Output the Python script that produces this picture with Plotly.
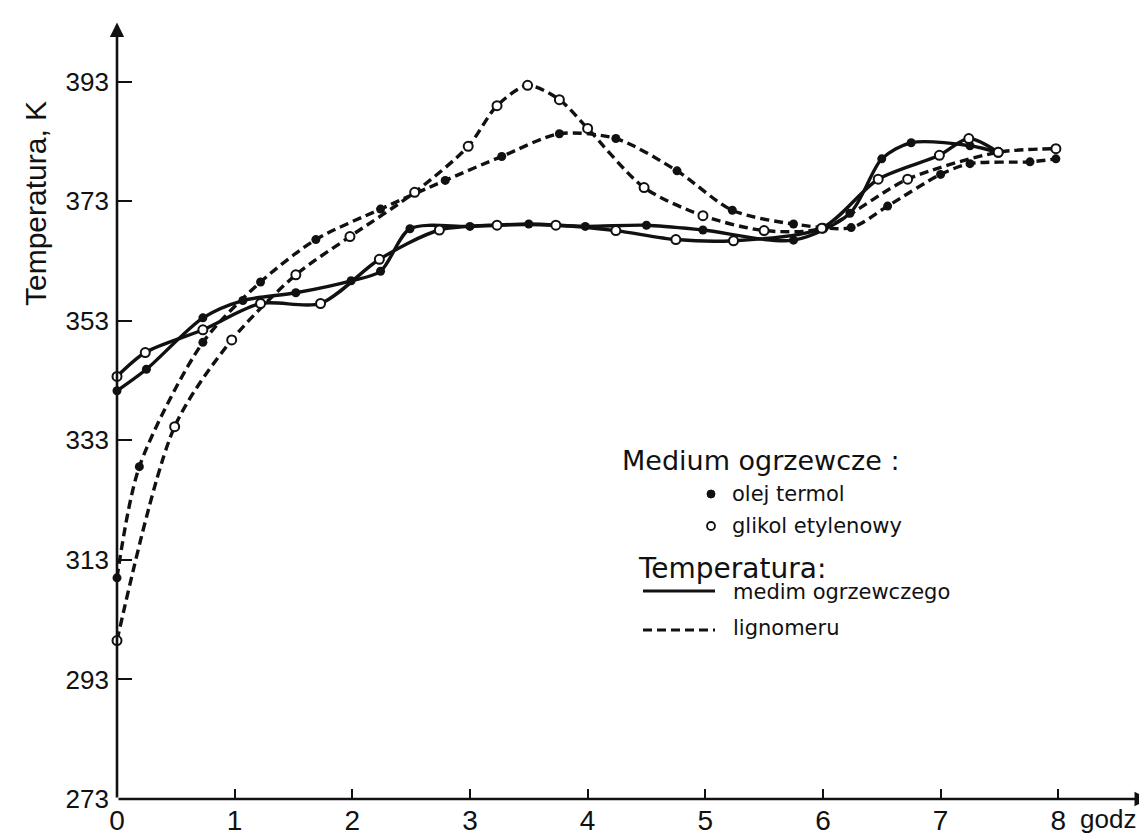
import plotly.graph_objects as go

# ---- data (hours, temperature K) ----
hours_oil_medium = [0, 0.25, 0.73, 1.07, 1.52, 1.99, 2.24, 2.49, 3.0, 3.5, 3.98, 4.5, 4.98, 5.75, 6.23, 6.5, 6.75, 7.25, 7.49]
temp_oil_medium = [341.3, 344.9, 353.5, 356.4, 357.7, 359.7, 361.3, 368.4, 368.8, 369.2, 368.8, 369.0, 368.2, 366.5, 371.0, 380.1, 382.8, 382.3, 381.2]

hours_glycol_medium = [0, 0.24, 0.73, 1.22, 1.73, 2.23, 2.74, 3.23, 3.73, 4.24, 4.75, 5.24, 5.99, 6.47, 6.99, 7.24, 7.49]
temp_glycol_medium = [343.7, 347.7, 351.5, 355.9, 355.9, 363.3, 368.2, 369.0, 369.0, 368.1, 366.6, 366.4, 368.5, 376.7, 380.7, 383.5, 381.2]

hours_oil_lignomer = [0, 0.19, 0.73, 1.22, 1.69, 2.24, 2.79, 3.27, 3.76, 4.24, 4.76, 5.23, 5.75, 6.24, 6.55, 7.0, 7.25, 7.76, 7.98]
temp_oil_lignomer = [310.0, 328.6, 349.4, 359.5, 366.6, 371.7, 376.5, 380.5, 384.3, 383.5, 378.1, 371.5, 369.2, 368.6, 372.2, 377.5, 379.3, 379.6, 380.1]

hours_glycol_lignomer = [0, 0.49, 0.975, 1.52, 1.98, 2.53, 2.985, 3.23, 3.49, 3.76, 4.0, 4.48, 4.98, 5.5, 6.0, 6.72, 7.49, 7.98]
temp_glycol_lignomer = [299.5, 335.3, 349.8, 360.7, 367.1, 374.5, 382.2, 389.0, 392.4, 390.0, 385.2, 375.3, 370.6, 368.1, 368.5, 376.7, 381.2, 381.8]

x_ticks = [0, 1, 2, 3, 4, 5, 6, 7, 8]
y_ticks = [273, 293, 313, 333, 353, 373, 393]

# ---- layout geometry ----
W, H = 1147, 834
ML, MR, MT, MB = 109, 5, 14, 43
PW, PH = W - ML - MR, H - MT - MB
X_MAX = 8.78
Y_MIN, Y_MAX = 273, 403.0

def xp(px):
    return (px - ML) / PW

def yp(py):
    return (H - MB - py) / PH

BLACK = "#111111"
LINEW = 3.4
DASH = "9px,5px"
AXFONT = "Liberation Sans, Arial, Helvetica, sans-serif"

fig = go.Figure()

def add_series(xs, ys, filled, dashed):
    fig.add_trace(go.Scatter(
        x=xs, y=ys, mode="lines+markers",
        line=dict(color=BLACK, width=LINEW, shape="spline", smoothing=0.8,
                  dash=DASH if dashed else "solid"),
        marker=dict(size=9,
                    color=BLACK if filled else "white",
                    line=dict(color=BLACK, width=2 if not filled else 0),
                    symbol="circle"),
        showlegend=False, hoverinfo="skip", cliponaxis=False))

add_series(hours_oil_lignomer, temp_oil_lignomer, True, True)
add_series(hours_glycol_lignomer, temp_glycol_lignomer, False, True)
add_series(hours_oil_medium, temp_oil_medium, True, False)
add_series(hours_glycol_medium, temp_glycol_medium, False, False)

fig.update_xaxes(range=[0, X_MAX], tickvals=x_ticks, ticktext=[str(v) for v in x_ticks],
                 ticks="inside", ticklen=10, tickwidth=2, tickcolor=BLACK, automargin=False,
                 showgrid=False, zeroline=False, showline=False, ticklabelstandoff=2,
                 tickfont=dict(family=AXFONT, size=28, color=BLACK))
fig.update_yaxes(range=[Y_MIN, Y_MAX], tickvals=y_ticks, ticktext=[str(v) for v in y_ticks],
                 ticks="inside", ticklen=15, tickwidth=2, tickcolor=BLACK, automargin=False,
                 showgrid=False, zeroline=False, showline=False, ticklabelstandoff=7,
                 tickfont=dict(family=AXFONT, size=26, color=BLACK))

annotations = [
    # axis arrows
    dict(x=X_MAX - 0.01, y=Y_MIN, ax=0, ay=Y_MIN, xref="x", yref="y", axref="x", ayref="y",
         text="", showarrow=True, arrowhead=2, arrowsize=1.1, arrowwidth=2.6, arrowcolor=BLACK),
    dict(x=0, y=Y_MAX - 0.1, ax=0, ay=Y_MIN, xref="x", yref="y", axref="x", ayref="y",
         text="", showarrow=True, arrowhead=2, arrowsize=1.1, arrowwidth=2.6, arrowcolor=BLACK),
    # axis titles
    dict(x=xp(27), y=yp(195), xref="paper", yref="paper", text="Temperatura, K",
         textangle=-90, showarrow=False, xanchor="center", yanchor="middle",
         font=dict(family=AXFONT, size=30, color=BLACK)),
    dict(x=xp(1100), y=yp(811), xref="paper", yref="paper", text="godz",
         showarrow=False, xanchor="center", yanchor="middle",
         font=dict(family=AXFONT, size=26, color=BLACK)),
]

leg_font = "DejaVu Sans, Verdana, sans-serif"
legend_texts = [
    ("Medium ogrzewcze :", 612, 452, 27),
    ("olej termol", 722, 486, 21),
    ("glikol etylenowy", 722, 518, 21),
    ("Temperatura:", 628, 560, 28),
    ("medim ogrzewczego", 723, 584, 21),
    ("lignomeru", 723, 620, 21),
]
for txt, px, py, sz in legend_texts:
    annotations.append(dict(x=xp(px), y=yp(py), xref="paper", yref="paper", text=txt,
                            showarrow=False, xanchor="left", yanchor="middle",
                            font=dict(family=leg_font, size=sz, color=BLACK)))

shapes = [
    dict(type="line", xref="paper", yref="paper", x0=xp(635), x1=xp(707), y0=yp(583), y1=yp(583),
         line=dict(color=BLACK, width=3)),
    dict(type="line", xref="paper", yref="paper", x0=xp(635), x1=xp(707), y0=yp(622), y1=yp(622),
         line=dict(color=BLACK, width=3, dash="9px,5px")),
    dict(type="circle", xref="paper", yref="paper", x0=xp(699), x1=xp(707), y0=yp(490), y1=yp(482),
         fillcolor=BLACK, line=dict(color=BLACK, width=1)),
    dict(type="circle", xref="paper", yref="paper", x0=xp(699), x1=xp(707), y0=yp(522), y1=yp(514),
         fillcolor="white", line=dict(color=BLACK, width=1.8)),
]

fig.update_layout(width=W, height=H, margin=dict(l=ML, r=MR, t=MT, b=MB, autoexpand=False),
                  paper_bgcolor="white", plot_bgcolor="white",
                  annotations=annotations, shapes=shapes, showlegend=False)

fig.write_html("out.html")
